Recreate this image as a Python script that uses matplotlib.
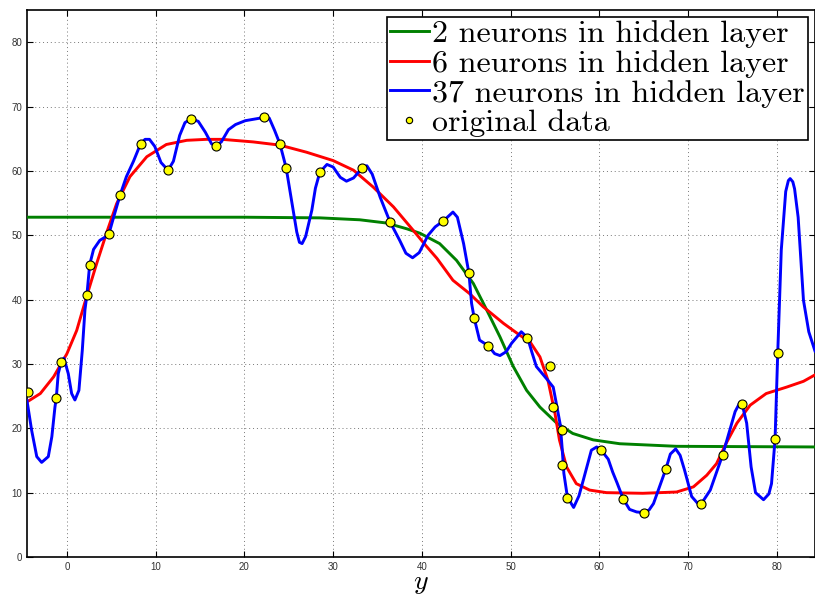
import matplotlib
matplotlib.use('Agg')
import matplotlib.pyplot as plt

plt.rcParams.update({
    'font.family': 'sans-serif', 'font.sans-serif': ['Liberation Sans', 'DejaVu Sans'],
    'mathtext.fontset': 'cm',
})

# ---------- original data points ----------
data_x = [-4.43, -1.2, -0.64, 2.25, 2.56, 4.73, 6.0, 8.3, 11.4, 13.97, 16.8, 22.2,
          24.0, 24.7, 28.5, 33.3, 36.4, 42.4, 45.3, 45.9, 47.5, 51.9, 54.4, 54.8,
          55.8, 55.8, 56.4, 60.2, 62.7, 65.0, 67.5, 71.5, 73.9, 76.1, 79.8, 80.1]
data_y = [25.7, 24.7, 30.3, 40.7, 45.4, 50.2, 56.3, 64.2, 60.1, 68.0, 63.9, 68.3,
          64.2, 60.5, 59.8, 60.5, 52.1, 52.2, 44.1, 37.1, 32.8, 34.1, 29.7, 23.3,
          19.7, 14.3, 9.2, 16.6, 9.0, 6.9, 13.7, 8.3, 15.9, 23.7, 18.3, 31.7]

# ---------- 2 neurons ----------
n2_x = [-4.5, 20.0, 28.5, 33.0, 36.0, 38.3, 39.8, 42.0, 43.9, 45.8, 47.3, 48.8,
        50.3, 51.8, 53.3, 55.2, 57.0, 59.3, 62.3, 68.7, 84.3]
n2_y = [52.8, 52.8, 52.7, 52.4, 51.9, 51.0, 50.3, 48.7, 46.1, 42.5, 38.4, 34.2,
        29.6, 25.9, 23.3, 20.8, 19.2, 18.2, 17.6, 17.2, 17.1]

# ---------- 6 neurons ----------
n6_x = [-4.5, -3.0, -1.5, 0.0, 1.1, 2.2, 3.35, 4.5, 5.6, 7.1, 9.0, 11.2, 13.5,
        15.7, 17.5, 21.0, 24.0, 27.0, 30.0, 32.3, 34.5, 36.8, 39.0, 40.5, 41.7,
        43.5, 45.4, 46.9, 49.2, 51.0, 52.2, 53.3, 54.2, 55.0, 55.5, 56.3, 57.4,
        58.9, 60.8, 64.9, 68.7, 70.6, 72.1, 73.2, 74.3, 75.5, 77.0, 78.8, 81.1,
        83.0, 84.3]
n6_y = [24.1, 25.4, 28.0, 31.6, 35.2, 40.4, 45.6, 50.5, 54.9, 59.1, 62.2, 64.1, 64.75,
        64.9, 64.9, 64.5, 64.0, 62.9, 61.6, 60.1, 57.5, 54.4, 50.8, 48.3, 46.4,
        43.0, 40.9, 38.9, 36.3, 34.5, 33.4, 31.1, 27.5, 22.3, 18.2, 14.0, 11.4,
        10.4, 10.0, 9.9, 10.1, 10.9, 12.7, 14.5, 17.7, 20.8, 23.6, 25.4, 26.4,
        27.3, 28.3]

# ---------- 37 neurons ----------
n37_x = [-4.5, -3.98, -3.4, -2.85, -2.1, -1.7, -1.35, -1.2, -0.98, -0.64, -0.34,
         0.15, 0.53, 0.9, 1.35, 1.73, 2.03, 2.25, 2.56, 3.0, 3.7, 4.3, 4.73, 5.2,
         6.0, 6.7, 7.5, 8.3, 8.8, 9.3, 9.9, 10.6, 11.4, 12.0, 12.7, 13.3, 14.0,
         14.8, 15.6, 16.3, 16.8, 17.4, 18.2, 19.0, 20.1, 21.4, 22.2, 22.8, 23.4,
         24.0, 24.7, 25.3, 25.9, 26.2, 26.5, 26.9, 27.6, 28.0, 28.5, 29.3, 30.0, 30.8,
         31.5, 32.3, 33.3, 33.8, 34.4, 35.3, 36.4, 37.5, 38.2, 38.95, 39.7, 40.7,
         41.5, 42.4, 43.5, 44.0, 44.7, 45.3, 45.6, 45.9, 46.5, 47.5, 48.2, 48.8,
         49.5, 50.1, 51.2, 51.9, 52.4, 52.9, 54.05, 54.8, 55.2, 55.6, 55.8, 56.0,
         56.4, 57.1, 57.7, 58.2, 59.1, 59.7, 60.2, 61.0, 61.5, 62.0, 62.7, 63.4,
         64.2, 65.0, 65.6, 66.1, 66.8, 67.5, 68.0, 68.6, 69.1, 69.6, 70.4, 71.1,
         71.5, 72.5, 73.9, 74.7, 75.3, 75.8, 76.1, 76.6, 77.1, 77.6, 78.5, 79.1,
         79.4, 79.8, 80.1, 80.5, 81.0, 81.3, 81.5, 81.8, 82.0, 82.4, 83.0, 83.6, 84.3]
n37_y = [24.3, 19.7, 15.6, 14.7, 15.6, 18.7, 23.3, 24.7, 28.5, 30.3, 30.9,
         28.5, 25.4, 24.4, 25.9, 32.1, 38.4, 40.7, 45.4, 47.8, 49.2, 49.7, 50.2, 52.5,
         56.3, 59.1, 61.5, 64.2, 64.9, 64.9, 63.8, 61.3, 60.1, 61.5, 65.5, 67.5, 68.1,
         67.7, 66.0, 64.2, 63.9, 64.5, 66.4, 67.2, 67.8, 68.1, 68.3, 68.2, 66.3,
         64.2, 60.5, 55.5, 50.5, 48.9, 48.7, 49.8, 53.9, 57.3, 59.8, 61.0, 60.6, 59.0,
         58.4, 58.9, 60.5, 60.8, 59.5, 55.9, 52.1, 49.2, 47.2, 46.5, 47.3, 50.0,
         51.3, 52.2, 53.6, 52.8, 48.7, 44.1, 39.4, 37.1, 33.7, 32.8, 31.6, 31.3,
         31.9, 33.2, 35.0, 34.1, 31.8, 29.6, 27.7, 26.4, 23.5, 20.5, 17.0, 13.0,
         9.3, 7.7, 9.5, 12.0, 16.6, 17.1, 16.6, 15.2, 13.2, 11.5, 9.0, 7.4,
         7.0, 6.9, 7.3, 8.3, 11.0, 13.7, 16.0, 16.8, 15.8, 13.5, 9.4, 8.3,
         8.3, 10.4, 15.9, 19.7, 22.6, 23.9, 23.7, 20.8, 14.0, 10.0, 8.9, 9.8,
         11.4, 18.3, 31.7, 47.7, 56.8, 58.5, 58.8, 58.3, 57.2, 52.8, 39.9, 35.0, 32.0]

x_ticks = [0, 10, 20, 30, 40, 50, 60, 70, 80]
y_ticks = [0, 10, 20, 30, 40, 50, 60, 70, 80]

fig = plt.figure(figsize=(8.15, 5.97), dpi=100)
ax = fig.add_axes([27 / 815, 40 / 597, 1 - 27 / 815, 547 / 597])

ax.plot(n2_x, n2_y, color='#008000', linewidth=2.1, label='2 neurons in hidden layer', zorder=3)
ax.plot(n6_x, n6_y, color='#ff0000', linewidth=2.1, label='6 neurons in hidden layer', zorder=3)
ax.plot(n37_x, n37_y, color='#0000ff', linewidth=2.1, label='37 neurons in hidden layer', zorder=3)
ax.plot(data_x, data_y, linestyle='none', marker='o', markersize=6.5,
        markerfacecolor='#ffff00', markeredgecolor='black', markeredgewidth=0.8,
        label='original data', zorder=4)

ax.set_xlim(-4.5, 84.3)
ax.set_ylim(0, 85)
ax.set_xticks(x_ticks)
ax.set_yticks(y_ticks)
ax.tick_params(direction='in', top=True, right=True, labelsize=7, colors='black',
               labelcolor='#333333', length=4, width=0.8)
ax.grid(True, linestyle=(0, (1, 3)), linewidth=0.7, color='#777777')
for s in ax.spines.values():
    s.set_linewidth(1.2)
    s.set_color('black')

ax.set_xlabel('$y$', fontsize=20, labelpad=-1)

# legend sits at the upper right, running past the figure edge like the original
leg = ax.legend(loc='upper left', bbox_to_anchor=(360 / 788, 1 - 6.7 / 547),
                borderaxespad=0, fancybox=False, framealpha=1, edgecolor='black',
                prop={'family': 'cmr10', 'size': 23}, handlelength=1.2,
                handletextpad=0.12, borderpad=0.1, labelspacing=0.04,
                markerscale=0.7)
leg.get_frame().set_linewidth(1.2)

fig.savefig('out.png', dpi=100)
